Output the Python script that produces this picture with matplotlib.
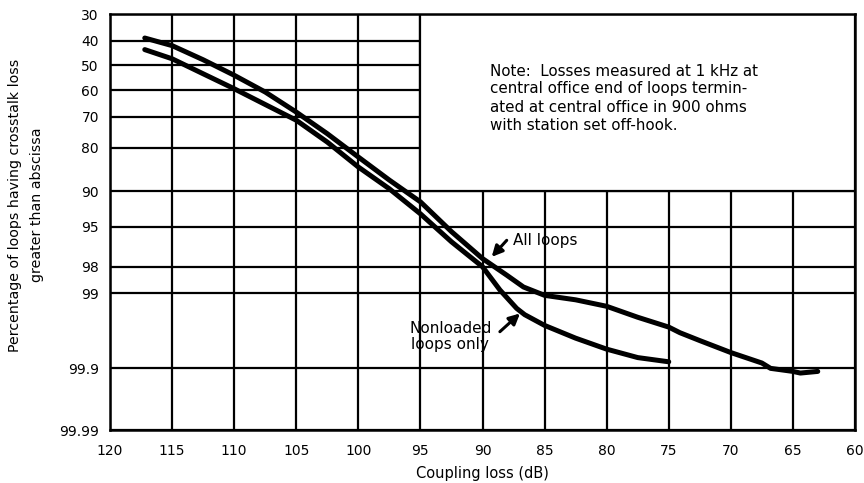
import numpy as np
import matplotlib
matplotlib.use('Agg')
import matplotlib.pyplot as plt
from matplotlib.patches import Rectangle
from statistics import NormalDist

# values (coupling loss in dB, percent of loops)
all_db = [117.2, 115, 112.5, 110, 107.5, 105, 102.5, 100, 97.5, 95, 92.5, 90,
          88.05, 86.7, 85, 82.5, 80, 77.5, 75, 74.1, 72.5, 70, 67.5, 66.8,
          65, 64.4, 63.0]
all_pct = [39.0, 42.0, 47.7, 54.0, 60.7, 68.3, 75.7, 82.5, 87.9, 91.8, 95.5, 97.56,
           98.38, 98.81, 99.05, 99.16, 99.30, 99.49, 99.62, 99.68, 99.75, 99.83,
           99.88, 99.90, 99.91, 99.915, 99.91]

nl_db = [117.2, 115, 112.5, 110, 107.5, 105, 102.5, 100, 97.5, 95, 92.5, 90,
         88.6, 87.25, 86.6, 85, 82.5, 80, 77.5, 75]
nl_pct = [43.6, 47.3, 53.4, 59.4, 65.5, 71.2, 78.3, 85.0, 89.6, 93.5, 96.4, 98.0,
          98.9, 99.34, 99.45, 99.60, 99.73, 99.81, 99.856, 99.875]

x_ticks = list(range(60, 121, 5))
y_ticks = [30, 40, 50, 60, 70, 80, 90, 95, 98, 99, 99.9, 99.99]
y_labels = ['30', '40', '50', '60', '70', '80', '90', '95', '98', '99', '99.9', '99.99']

note = ('Note:  Losses measured at 1 kHz at\n'
        'central office end of loops termin-\n'
        'ated at central office in 900 ohms\n'
        'with station set off-hook.')

_nd = NormalDist()
_ppf = np.vectorize(lambda p: _nd.inv_cdf(min(max(p / 100.0, 1e-12), 1 - 1e-12)),
                    otypes=[float])
_cdf = np.vectorize(lambda z: 100.0 * _nd.cdf(z), otypes=[float])


def fwd(p):
    return _ppf(np.asarray(p, dtype=float))


def inv(z):
    return _cdf(np.asarray(z, dtype=float))


plt.rcParams['font.family'] = ['DejaVu Sans']

fig = plt.figure(figsize=(8.64, 4.83), dpi=100)
ax = fig.add_axes([110 / 864, 1 - 430 / 483, 745 / 864, 416 / 483])

ax.set_yscale('function', functions=(fwd, inv))
ax.set_xlim(120, 60)
ax.set_ylim(99.99, 30)

ax.set_xticks(x_ticks)
ax.set_yticks(y_ticks)
ax.set_yticklabels(y_labels)
ax.yaxis.set_minor_locator(matplotlib.ticker.NullLocator())
ax.tick_params(length=0, labelsize=10, colors='black')
ax.tick_params(axis='y', pad=8)
ax.tick_params(axis='x', pad=10)

ax.set_axisbelow(True)
ax.grid(True, color='black', lw=1.6)
for s in ax.spines.values():
    s.set_linewidth(1.8)

# blank box holding the note (upper right)
ax.add_patch(Rectangle((60, 30), 35, 60, facecolor='white', edgecolor='black',
                       lw=1.6, zorder=1))
fig.text(490 / 864, 1 - 98 / 483, note, fontsize=10.9, va='center', ha='left',
         linespacing=1.25)

ax.plot(all_db, all_pct, color='black', lw=3.6, solid_capstyle='round',
        solid_joinstyle='round', zorder=3)
ax.plot(nl_db, nl_pct, color='black', lw=3.6, solid_capstyle='round',
        solid_joinstyle='round', zorder=3)

arrow = dict(arrowstyle='-|>', color='black', lw=2.2, mutation_scale=16,
             shrinkA=0, shrinkB=0)
ax.annotate('', xy=(89.26, 97.46), xytext=(88.05, 96.28), arrowprops=arrow, zorder=4)
ax.text(87.55, 96.28, 'All loops', fontsize=11, va='center', ha='left')
ax.annotate('', xy=(86.98, 99.43), xytext=(88.6, 99.67), arrowprops=arrow, zorder=4)
ax.text(92.6, 99.713, 'Nonloaded\nloops only', fontsize=11, ha='center',
        va='center', linespacing=1.1)

ax.set_xlabel('Coupling loss (dB)', fontsize=10.5, labelpad=6)
fig.text(26 / 864, 1 - 205 / 483,
         'Percentage of loops having crosstalk loss\ngreater than abscissa',
         rotation=90, ha='center', va='center', fontsize=10.2, linespacing=1.75)

fig.savefig('out.png', dpi=100)
